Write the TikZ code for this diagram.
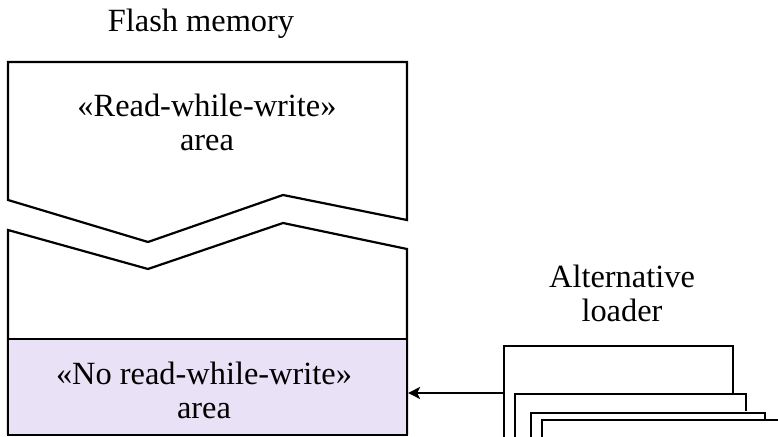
\documentclass[tikz,border=0pt]{standalone}
\usepackage{fontspec}
\setmainfont{Liberation Serif}
\usetikzlibrary{arrows.meta}
\definecolor{nrwwfill}{RGB}{233,225,245}
\tikzset{
  outline/.style={line width=1.1pt, line join=miter},
  label/.style={inner sep=0pt, align=center, font=\fontsize{16.2}{17}\selectfont},
}
\begin{document}
\begin{tikzpicture}[x=0.5pt, y=-0.5pt]
\useasboundingbox (0,0) rectangle (778,437);
% title of the memory (multi-line labels are placed by their last baseline)
\node[label, anchor=base] (flash) at (201,32) {Flash memory};
% upper part of the flash, cut by a zigzag break
\draw[outline] (8,200) -- (8,62) -- (407,62) -- (407,220)
  -- (283,195) -- (148,242) -- cycle;
\node[label, anchor=base] (rww) at (207,151) {«Read-while-write»\\area};
% lower part of the flash below the break
\draw[outline] (8,435) -- (8,230) -- (148,269) -- (283,223) -- (407,249) -- (407,435);
% no-read-while-write section
\node[outline, draw, fill=nrwwfill, minimum width=199.5pt,
      minimum height=48pt, inner sep=0pt] (nrww) at (207.5,387) {};
\node[label, anchor=base] (nrwwtext) at (204,419) {«No read-while-write»\\area};
% alternative loader, a stack of pages
\node[label, anchor=base] (alttext) at (622,322) {Alternative\\loader};
\draw[outline] (504,437) -- (504,346) -- (733,346) -- (733,394);
\draw[outline] (515,437) -- (515,394) -- (746,394) -- (746,411);
\draw[outline] (531,437) -- (531,413) -- (765,413) -- (765,420);
\draw[outline] (542,437) -- (542,420) -- (778,420);
\coordinate (alt) at (504,393);
\draw[outline, -{Stealth[length=6pt,width=6pt,inset=1.5pt]}] (alt) -- (alt -| nrww.east);
\end{tikzpicture}
\end{document}
